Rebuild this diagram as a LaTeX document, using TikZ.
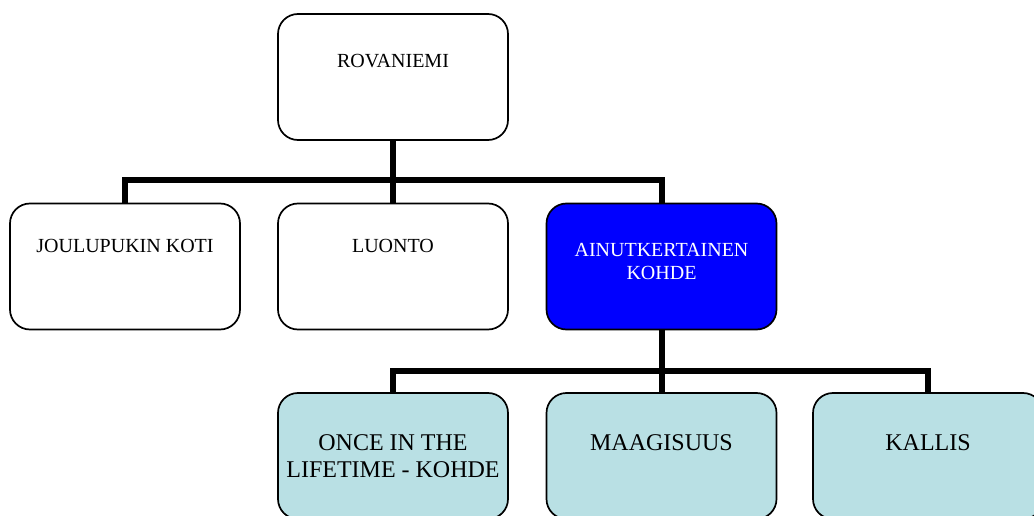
\documentclass[tikz,border=0pt]{standalone}
\usepackage{fontspec}
\setmainfont{Liberation Serif}
\definecolor{paleteal}{RGB}{185,224,228}
\definecolor{strongblue}{RGB}{0,0,255}
\begin{document}
\begin{tikzpicture}[x=1pt,y=-1pt,
  box/.style={draw=black,line width=1.7pt,rounded corners=20pt,
    minimum width=230pt,minimum height=126pt,inner sep=0pt,fill=white},
  upper/.style={inner sep=0pt,align=center,anchor=north,
    font=\fontsize{20}{23}\selectfont},
  lower/.style={inner sep=0pt,align=center,anchor=north,
    font=\fontsize{24}{27}\selectfont},
  conn/.style={draw=black,line width=6pt,line join=miter}]
\useasboundingbox (0,0) rectangle (1034,516);
\clip (0,0) rectangle (1034,516);

% boxes
\node[box] (root) at (393,77) {};
\node[box] (koti) at (125,266.5) {};
\node[box] (luonto) at (393,266.5) {};
\node[box,fill=strongblue] (ainut) at (661.5,266.5) {};
\node[box,fill=paleteal] (once) at (393,456) {};
\node[box,fill=paleteal] (maagi) at (661.5,456) {};
\node[box,fill=paleteal] (kallis) at (928,456) {};

% connectors
\coordinate (bus1) at (393,180);
\coordinate (bus2) at (661.5,371);
\draw[conn] (root.south) -- (bus1) -- (luonto.north);
\draw[conn] (koti.north) |- (bus1) -| (ainut.north);
\draw[conn] (ainut.south) -- (bus2) -- (maagi.north);
\draw[conn] (once.north) |- (bus2) -| (kallis.north);

% labels
\node[upper] (troot) at ([yshift=-41pt]root.north) {ROVANIEMI};
\node[upper] (tkoti) at ([yshift=-36pt]koti.north) {JOULUPUKIN KOTI};
\node[upper] (tluonto) at ([yshift=-36pt]luonto.north) {LUONTO};
\node[upper,text=white] (tainut) at ([yshift=-40pt]ainut.north) {AINUTKERTAINEN\\KOHDE};
\node[lower] (tonce) at ([yshift=-42pt]once.north) {ONCE IN THE\\LIFETIME - KOHDE};
\node[lower] (tmaagi) at ([yshift=-42pt]maagi.north) {MAAGISUUS};
\node[lower] (tkallis) at ([yshift=-42pt]kallis.north) {KALLIS};
\end{tikzpicture}
\end{document}
